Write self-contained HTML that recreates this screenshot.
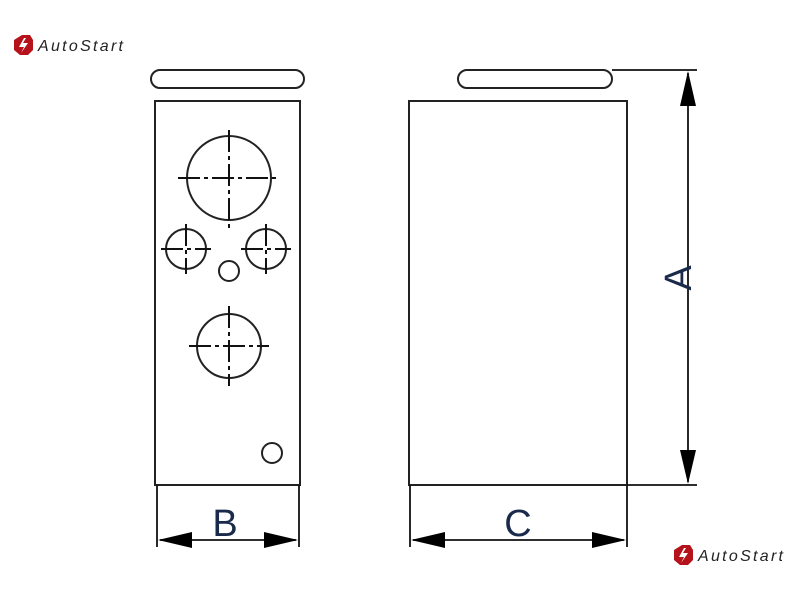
<!DOCTYPE html><html><head><style>body{margin:0;background:#fff}svg{display:block}</style></head><body>
<svg width="800" height="600" viewBox="0 0 800 600" xmlns="http://www.w3.org/2000/svg" font-family="Liberation Sans, sans-serif">
<g fill="none" stroke="#222" stroke-width="2">
<rect x="151" y="70" width="153" height="18" rx="9"/>
<rect x="155" y="101" width="145" height="384"/>
<circle cx="229" cy="178" r="42"/>
<circle cx="186" cy="249" r="20"/>
<circle cx="266" cy="249" r="20"/>
<circle cx="229" cy="271" r="10"/>
<circle cx="229" cy="346" r="32"/>
<circle cx="272" cy="453" r="10"/>
<rect x="458" y="70" width="154" height="18" rx="9"/>
<rect x="409" y="101" width="218" height="384"/>
</g>
<g stroke="#111" stroke-width="2" stroke-dasharray="22 4 4 4">
<line x1="178" y1="178" x2="280" y2="178"/><line x1="229" y1="130" x2="229" y2="230"/>
<line x1="161" y1="249" x2="211" y2="249"/><line x1="186" y1="224" x2="186" y2="274"/>
<line x1="241" y1="249" x2="291" y2="249"/><line x1="266" y1="224" x2="266" y2="274"/>
<line x1="189" y1="346" x2="269" y2="346"/><line x1="229" y1="306" x2="229" y2="386"/>
</g>
<g stroke="#111" stroke-width="1.8" fill="none">
<line x1="157" y1="485" x2="157" y2="547"/><line x1="299" y1="485" x2="299" y2="547"/>
<line x1="160" y1="540" x2="296" y2="540"/>
<line x1="410" y1="485" x2="410" y2="547"/><line x1="627" y1="485" x2="627" y2="547"/>
<line x1="413" y1="540" x2="624" y2="540"/>
<line x1="612" y1="70" x2="697" y2="70"/><line x1="627" y1="485" x2="697" y2="485"/>
<line x1="688" y1="73" x2="688" y2="482"/>
</g>
<g fill="#000">
<polygon points="158,540 192,532 192,548"/><polygon points="298,540 264,532 264,548"/>
<polygon points="411,540 445,532 445,548"/><polygon points="626,540 592,532 592,548"/>
<polygon points="688,71 680,106 696,106"/><polygon points="688,484 680,450 696,450"/>
</g>
<text x="225" y="536" font-size="38" text-anchor="middle" fill="#1a2a4a">B</text>
<text x="518" y="536" font-size="38" text-anchor="middle" fill="#1a2a4a">C</text>
<text transform="translate(691,278) rotate(-90)" font-size="38" text-anchor="middle" fill="#1a2a4a">A</text>
<g>
<polygon points="22,35 30,35 33,40 33,50 28,55 20,55 14,50 14,40" fill="#b5121b"/>
<polygon points="24,38 19,47 24,47 21,53 28,43 23,43 26,38" fill="#fff"/>
<text x="38" y="51" font-size="16" font-style="italic" letter-spacing="1" fill="#222" textLength="86">AutoStart</text>
</g>
<g transform="translate(660,510)">
<polygon points="22,35 30,35 33,40 33,50 28,55 20,55 14,50 14,40" fill="#b5121b"/>
<polygon points="24,38 19,47 24,47 21,53 28,43 23,43 26,38" fill="#fff"/>
<text x="38" y="51" font-size="16" font-style="italic" letter-spacing="1" fill="#222" textLength="86">AutoStart</text>
</g>
</svg>
</body></html>
